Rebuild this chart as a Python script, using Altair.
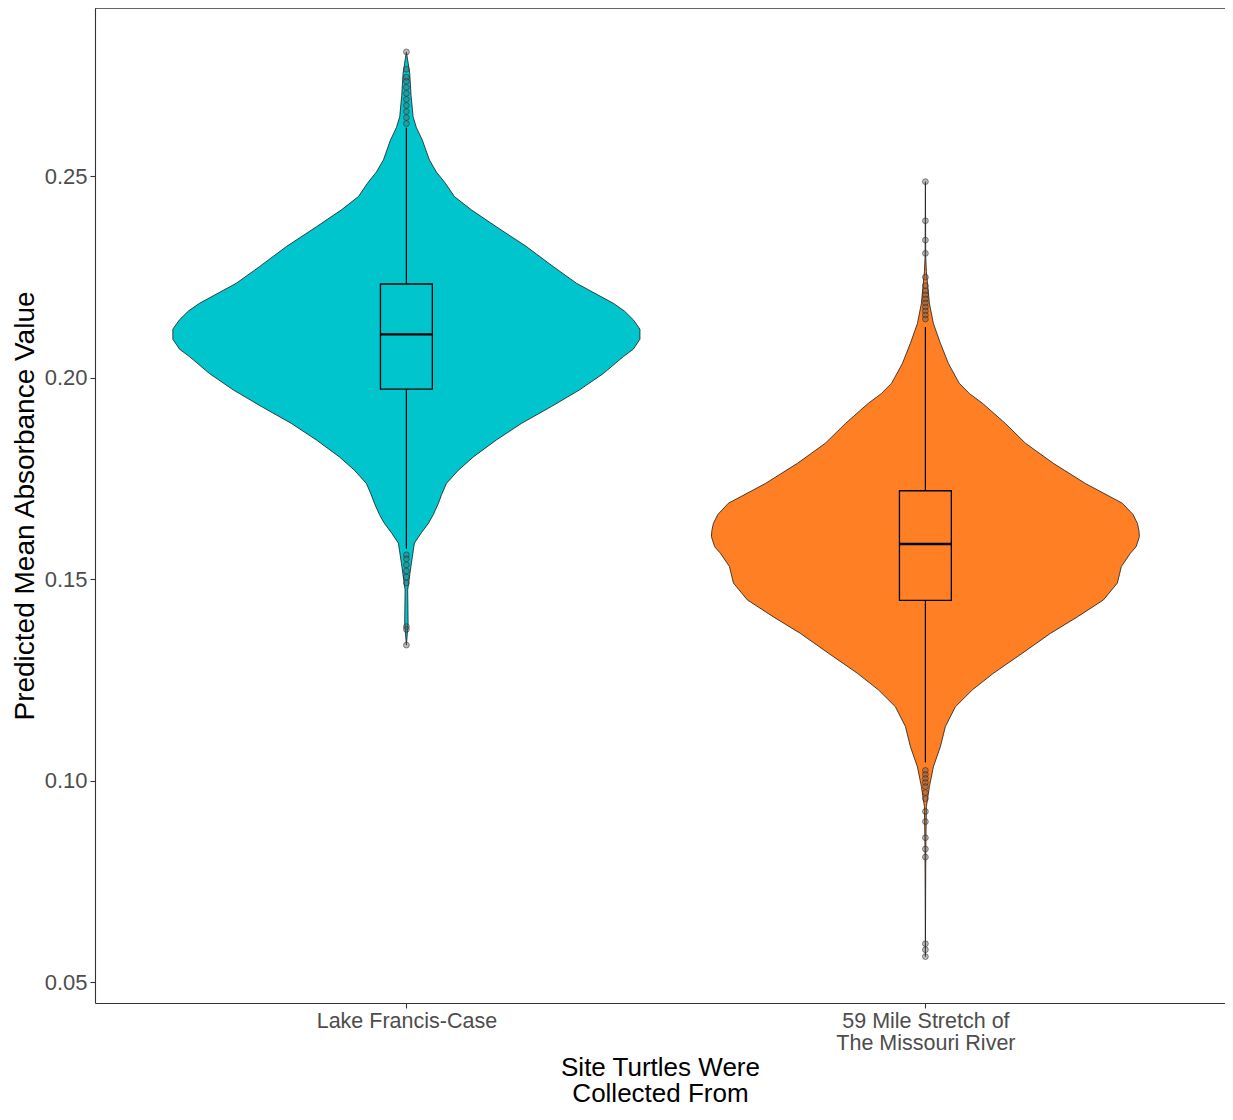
import altair as alt
import pandas as pd

# ---------------- data ----------------
sites = ["Lake Francis-Case", "59 Mile Stretch of The Missouri River"]
site_pos = [1, 2]
site_colors = ["#00C5CD", "#FF7F24"]

# violin outlines: value (y) and half-width (in category units)
lake_v = [0.2808, 0.2755, 0.2700, 0.2647, 0.2620, 0.2589, 0.2540, 0.2510, 0.2482,
          0.2449, 0.2416, 0.2374, 0.2325, 0.2275, 0.2234, 0.2184, 0.2165, 0.2143,
          0.2120, 0.2095, 0.2070, 0.2052, 0.2010, 0.1969, 0.1928, 0.1886, 0.1845,
          0.1803, 0.1770, 0.1737, 0.1710, 0.1688, 0.1660, 0.1638, 0.1615, 0.1589,
          0.1539, 0.1473, 0.1390, 0.1336]
lake_hw = [0.0, 0.0064, 0.0090, 0.0129, 0.0193, 0.0308, 0.0443, 0.0578, 0.0751,
           0.0925, 0.1252, 0.1734, 0.2312, 0.2832, 0.3276, 0.3988, 0.4200, 0.4374,
           0.4500, 0.4500, 0.4370, 0.4181, 0.3796, 0.3333, 0.2794, 0.2216, 0.1734,
           0.1291, 0.1002, 0.0771, 0.0680, 0.0617, 0.0520, 0.0424, 0.0290, 0.0154,
           0.0096, 0.0025, 0.0033, 0.0]

mo_v = [0.2486, 0.2300, 0.2263, 0.2184, 0.2134, 0.2085, 0.2035, 0.1986, 0.1960,
        0.1936, 0.1886, 0.1837, 0.1787, 0.1737, 0.1688, 0.1660, 0.1638, 0.1620,
        0.1605, 0.1580, 0.1564, 0.1531, 0.1490, 0.1448, 0.1406, 0.1365, 0.1316,
        0.1266, 0.1225, 0.1183, 0.1134, 0.1084, 0.1034, 0.0985, 0.0935, 0.0852,
        0.0770, 0.0563]
mo_hw = [0.0, 0.0006, 0.0019, 0.0077, 0.0154, 0.0289, 0.0443, 0.0650, 0.0850,
         0.1100, 0.1540, 0.1927, 0.2466, 0.3083, 0.3796, 0.4000, 0.4085, 0.4115,
         0.4123, 0.4060, 0.3950, 0.3776, 0.3699, 0.3430, 0.2929, 0.2408, 0.1869,
         0.1310, 0.0906, 0.0578, 0.0385, 0.0289, 0.0154, 0.0077, 0.0019, 0.0010,
         0.0006, 0.0]

# boxplot statistics
q1 = [0.1971, 0.1447]
median = [0.2107, 0.1587]
q3 = [0.2232, 0.1719]
whisker_lo = [0.1575, 0.1045]
whisker_hi = [0.2620, 0.2125]

# outliers
lake_out = [0.2808, 0.2765, 0.2745, 0.2735, 0.2720, 0.2705, 0.2690, 0.2675, 0.2660,
            0.2645, 0.2630, 0.1560, 0.1550, 0.1535, 0.1520, 0.1505, 0.1490, 0.1382,
            0.1375, 0.1336]
mo_out = [0.2486, 0.2389, 0.2341, 0.2308, 0.2249, 0.2228, 0.2215, 0.2205, 0.2195,
          0.2185, 0.2175, 0.2165, 0.2155, 0.2145, 0.1025, 0.1015, 0.1005, 0.0995,
          0.0985, 0.0970, 0.0955, 0.0923, 0.0898, 0.0858, 0.0830, 0.0810, 0.0595,
          0.0580, 0.0563]

y_ticks = [0.05, 0.10, 0.15, 0.20, 0.25]

# ---------------- tables ----------------
violin_df = pd.DataFrame({
    "site": [sites[0]] * len(lake_v) + [sites[1]] * len(mo_v),
    "pos": [site_pos[0]] * len(lake_v) + [site_pos[1]] * len(mo_v),
    "v": lake_v + mo_v,
    "hw": lake_hw + mo_hw,
})
box_df = pd.DataFrame({"site": sites, "pos": site_pos, "q1": q1, "med": median,
                       "q3": q3, "wlo": whisker_lo, "whi": whisker_hi})
whisk_df = pd.DataFrame({
    "pos": site_pos + site_pos,
    "y1": whisker_lo + q3,
    "y2": q1 + whisker_hi,
})
out_df = pd.DataFrame({
    "pos": [site_pos[0]] * len(lake_out) + [site_pos[1]] * len(mo_out),
    "v": lake_out + mo_out,
})

W, H = 1130, 995
FONT = "Liberation Sans"

x_scale = alt.Scale(domain=[0.4, 0.4 + W / 519.0], nice=False, zero=False)
y_scale = alt.Scale(domain=[0.04479, 0.29169], nice=False, zero=False)

x_axis = alt.Axis(
    values=site_pos,
    labelExpr="datum.value == 1 ? 'Lake Francis-Case' : ['59 Mile Stretch of', 'The Missouri River']",
    title=["Site Turtles Were", "\u00a0Collected From"],
    grid=False, domainColor="#333333", domainWidth=1.1, tickColor="#333333",
    tickSize=5, tickWidth=1.1, labelFontSize=21.5, labelColor="#4D4D4D",
    labelPadding=2, labelLineHeight=22, labelFlush=False, labelOverlap=False,
    labelLimit=0, labelFont=FONT, titleFont=FONT, titleFontSize=26,
    titleFontWeight="normal", titleColor="black", titleLineHeight=26, titlePadding=1,
)
y_axis = alt.Axis(
    values=y_ticks, format=".2f", title="Predicted Mean Absorbance Value",
    grid=False, domainColor="#333333", domainWidth=1.1, tickColor="#333333",
    tickSize=5, tickWidth=1.1, labelFontSize=22, labelColor="#4D4D4D",
    labelPadding=3, labelFlush=False, labelLimit=0, labelFont=FONT, titleFont=FONT,
    titleFontSize=28, titleFontWeight="normal", titleColor="black", titlePadding=5,
)


def X(field):
    return alt.X(field, type="quantitative", scale=x_scale, axis=x_axis)


def Y(field):
    return alt.Y(field, type="quantitative", scale=y_scale, axis=y_axis)


color = alt.Color("site:N", scale=alt.Scale(domain=sites, range=site_colors), legend=None)

violins = alt.Chart(violin_df).transform_calculate(
    lo="datum.pos - datum.hw", hi="datum.pos + datum.hw"
).mark_area(orient="horizontal", stroke="#1a1a1a", strokeWidth=0.8,
            fillOpacity=1).encode(
    y=Y("v"), x=X("lo"), x2="hi:Q", color=color
)

whiskers = alt.Chart(whisk_df).mark_rule(color="black", strokeWidth=1.2).encode(
    x=X("pos"), y=Y("y1"), y2="y2:Q"
)

boxes = alt.Chart(box_df).transform_calculate(
    bl="datum.pos - 0.05", br="datum.pos + 0.05"
).mark_rect(fillOpacity=0, stroke="black", strokeWidth=1.3).encode(
    x=X("bl"), x2="br:Q", y=Y("q1"), y2="q3:Q"
)

medians = alt.Chart(box_df).transform_calculate(
    bl="datum.pos - 0.05", br="datum.pos + 0.05"
).mark_rule(color="black", strokeWidth=2.4).encode(
    x=X("bl"), x2="br:Q", y=Y("med")
)

points = alt.Chart(out_df).mark_circle(
    size=34, fill="#5a5a5a", fillOpacity=0.4, stroke="#222222", strokeOpacity=0.5,
    strokeWidth=1
).encode(x=X("pos"), y=Y("v"))

top_line = alt.Chart(box_df).mark_rule(color="#333333", strokeWidth=1.1).encode(
    x=alt.value(0), x2=alt.value(W), y=alt.value(0)
)

chart = alt.layer(violins, whiskers, boxes, medians, points, top_line).properties(
    width=W, height=H,
    autosize=alt.AutoSizeParams(type="none"),
    padding={"left": 87, "top": 0, "right": 0, "bottom": 104},
).configure(font=FONT).configure_view(stroke=None)

chart.save("out.html", embed_options={"renderer": "svg", "actions": False})
